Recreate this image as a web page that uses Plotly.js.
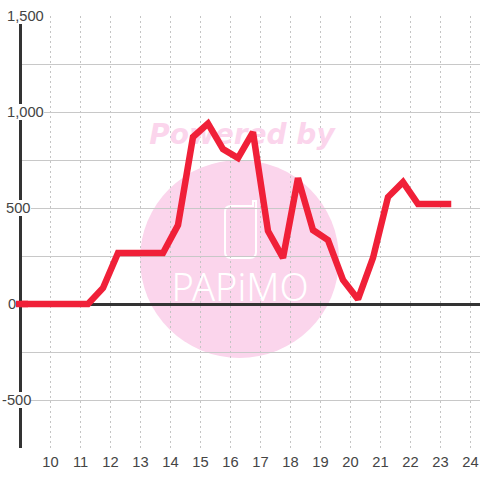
<!DOCTYPE html>
<html><head><meta charset="utf-8">
<script src="https://cdn.plot.ly/plotly-3.0.1.min.js"></script>
<style>html,body{margin:0;padding:0;background:#fff}</style></head>
<body><div id="chart" style="width:480px;height:480px"></div>
<script>
const hours = [8.75,9.25,9.75,10.25,10.75,11.25,11.75,12.25,12.75,13.25,13.75,14.25,14.75,15.25,15.75,16.25,16.75,17.25,17.75,18.25,18.75,19.25,19.75,20.25,20.75,21.25,21.75,22.25,22.75,23.25];
const values = [0,0,0,0,0,0,83,266,266,266,266,411,870,940,807,760,895,380,240,656,385,333,125,25,240,557,635,521,521,521];
const xTicks = [10,11,12,13,14,15,16,17,18,19,20,21,22,23,24];
const yGrid = [-750,-500,-250,0,250,500,750,1000,1250,1500];
const yLabelValues = [1500,1000,500,0,-500];
const yLabelTexts = ['1,500','1,000','500','0','-500'];
const yLabelLeft = [7,7,6,8,2];

const W=480,H=480,L=22,T=16,B=32;
const px=(x)=>(x-L)/(W-L), py=(y)=>(H-B-y)/(H-B-T);
const font='"Liberation Sans", Arial, sans-serif';
const xRange=[10-(50.5-L)/30,10+(W-50.5)/30];
const xToPaper=(x)=>(x-xRange[0])/(xRange[1]-xRange[0]);
const lineColor='#f02038', lineWidth=6.5;

const phone=(()=>{
  const p=(x,y)=>px(x).toFixed(4)+','+py(y).toFixed(4);
  return 'M'+p(254,206)+' L'+p(231,206)+' Q'+p(225,206)+' '+p(225,212)+' L'+p(225,252)+' Q'+p(225,258)+' '+p(231,258)+
         ' L'+p(250,258)+' Q'+p(256,258)+' '+p(256,252)+' L'+p(256,201)+' L'+p(253,201)+' L'+p(253,206);
})();

const traces=[
 {x:[16.38],y:[870],mode:'text',text:['Powered by'],cliponaxis:false,hoverinfo:'skip',
  textfont:{family:'"DejaVu Sans", sans-serif',size:28,color:'#fbd5ec',weight:700,style:'italic'}},
 {x:[16.32],y:[66],mode:'text',text:['PAPiMO'],cliponaxis:false,hoverinfo:'skip',
  textfont:{family:'"Noto Sans", sans-serif',size:38,color:'#ffffff',weight:300}},
 {x:hours,y:values,mode:'lines',cliponaxis:false,line:{color:lineColor,width:lineWidth,shape:'linear'},hoverinfo:'skip'}
];

const layout={
 width:W,height:H,showlegend:false,
 margin:{l:L,r:0,t:T,b:B,pad:0},
 paper_bgcolor:'#ffffff',plot_bgcolor:'rgba(0,0,0,0)',
 font:{family:font,size:14,color:'#444444'},
 xaxis:{range:xRange,tickmode:'array',tickvals:xTicks,ticktext:xTicks.map(String),
   showgrid:true,gridcolor:'#c4c4c4',griddash:'2px,3px',gridwidth:1,zeroline:false,showline:false,ticks:'',ticklen:0,
   ticklabelstandoff:3,
   tickfont:{family:font,size:14.7,color:'#444444'},layer:'below traces',fixedrange:true},
 yaxis:{range:[-750,1500],tickmode:'array',tickvals:yGrid,showticklabels:false,
   showgrid:true,gridcolor:'#c8c8c8',gridwidth:1,griddash:'solid',zeroline:true,zerolinecolor:'#333333',zerolinewidth:3,
   showline:true,linecolor:'#333333',linewidth:3,ticks:'',layer:'below traces',fixedrange:true},
 shapes:[
  {type:'circle',xref:'paper',yref:'paper',x0:px(140),x1:px(339),y0:py(358),y1:py(160),fillcolor:'#fbd5ec',line:{width:0},layer:'below'},
  {type:'path',xref:'paper',yref:'paper',path:phone,line:{color:'#ffffff',width:2},layer:'below'},
  {type:'line',xref:'paper',yref:'y',x0:xToPaper(hours[0]),x1:xToPaper(hours[1]),y0:values[0],y1:values[1],line:{color:lineColor,width:lineWidth},layer:'above'}
 ],
 annotations:yLabelValues.map((v,i)=>({
   xref:'paper',yref:'y',x:px(yLabelLeft[i]),y:v,text:yLabelTexts[i],showarrow:false,xanchor:'left',yanchor:'middle',
   bgcolor:'#ffffff',borderpad:0,borderwidth:0,font:{family:font,size:14.7,color:'#444444'}
 }))
};
Plotly.newPlot('chart',traces,layout,{staticPlot:true,displayModeBar:false}).then(()=>{
  document.querySelectorAll('#chart .js-line').forEach(el=>{el.style.strokeLinecap='square';});
});
</script></body></html>
